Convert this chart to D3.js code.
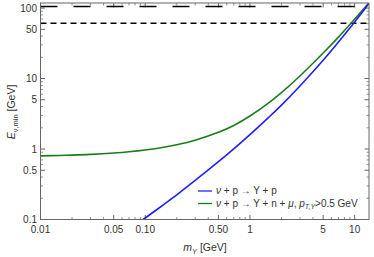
<!DOCTYPE html>
<html lang="en">
<head>
<meta charset="UTF-8" />
<script src="https://d3js.org/d3.v7.min.js"></script>
<style>
  html, body { margin: 0; padding: 0; background: #fff; overflow: hidden; }
  svg { display: block; font-family: 'Liberation Sans', Arial, sans-serif; }
  .tick-label { font-size: 10px; fill: #333; }
  .axis-title { font-size: 10.5px; fill: #333; }
  .legend-text { font-size: 10px; fill: #333; }
</style>
</head>
<body>
<svg width="374" height="257"></svg>
<script>
// values
const massBlue   = [0.09, 0.1, 0.15, 0.2, 0.3, 0.5, 0.7, 1.0, 1.5, 2, 3, 5, 7, 10, 14];
const energyBlue = [0.094, 0.105, 0.163, 0.224, 0.358, 0.66, 1.005, 1.6, 2.79, 4.2, 7.85, 18.2, 33, 63.5, 121.5];

const massGreen   = [0.01, 0.015, 0.02, 0.03, 0.05, 0.07, 0.1, 0.15, 0.2, 0.3, 0.5, 0.7, 1.0, 1.5, 2, 3, 5, 7, 10, 14];
const energyGreen = [0.80, 0.81, 0.82, 0.84, 0.878, 0.914, 0.968, 1.058, 1.15, 1.336, 1.725, 2.16, 2.94, 4.48, 6.31, 10.86, 23.0, 38.7, 69.7, 123.5];

const limitLong  = 105;
const limitShort = 61;

const xTickVals = [0.01, 0.05, 0.1, 0.5, 1, 5, 10];
const xTickText = ["0.01", "0.05", "0.10", "0.50", "1", "5", "10"];
const yTickVals = [0.1, 0.5, 1, 5, 10, 50, 100];
const yTickText = ["0.1", "0.5", "1", "5", "10", "50", "100"];

const legendLabels = ["blue", "green"];

const svg = d3.select("svg");
const pLeft = 40.5, pRight = 369, pTop = 3, pBottom = 219.5;

const x = d3.scaleLog().domain([0.01, 13.7]).range([pLeft, pRight]);
const y = d3.scaleLog().domain([0.1, 118]).range([pBottom, pTop]);

svg.append("clipPath").attr("id", "clip")
  .append("rect").attr("x", pLeft).attr("y", pTop)
  .attr("width", pRight - pLeft).attr("height", pBottom - pTop);

// minor ticks
function minors(lo, hi) {
  const out = [];
  for (let e = Math.floor(Math.log10(lo)); e <= Math.ceil(Math.log10(hi)); e++) {
    for (let k = 1; k < 10; k++) {
      const v = k * Math.pow(10, e);
      if (v >= lo && v <= hi) out.push(v);
    }
  }
  return out;
}

const frameColor = "#666";
const xMin = minors(0.01, 13.7).filter(v => !xTickVals.some(t => Math.abs(t - v) / v < 1e-6));
const yMin = minors(0.1, 118).filter(v => !yTickVals.some(t => Math.abs(t - v) / v < 1e-6));

const g = svg.append("g");

// ticks on all four sides
xTickVals.forEach(v => {
  g.append("line").attr("x1", x(v)).attr("x2", x(v)).attr("y1", pBottom).attr("y2", pBottom - 4.5).attr("stroke", frameColor);
  g.append("line").attr("x1", x(v)).attr("x2", x(v)).attr("y1", pTop).attr("y2", pTop + 4.5).attr("stroke", frameColor);
});
xMin.forEach(v => {
  g.append("line").attr("x1", x(v)).attr("x2", x(v)).attr("y1", pBottom).attr("y2", pBottom - 2.5).attr("stroke", frameColor).attr("stroke-width", 0.7);
  g.append("line").attr("x1", x(v)).attr("x2", x(v)).attr("y1", pTop).attr("y2", pTop + 2.5).attr("stroke", frameColor).attr("stroke-width", 0.7);
});
yTickVals.forEach(v => {
  g.append("line").attr("y1", y(v)).attr("y2", y(v)).attr("x1", pLeft).attr("x2", pLeft + 4.5).attr("stroke", frameColor);
  g.append("line").attr("y1", y(v)).attr("y2", y(v)).attr("x1", pRight).attr("x2", pRight - 4.5).attr("stroke", frameColor);
});
yMin.forEach(v => {
  g.append("line").attr("y1", y(v)).attr("y2", y(v)).attr("x1", pLeft).attr("x2", pLeft + 2.5).attr("stroke", frameColor).attr("stroke-width", 0.7);
  g.append("line").attr("y1", y(v)).attr("y2", y(v)).attr("x1", pRight).attr("x2", pRight - 2.5).attr("stroke", frameColor).attr("stroke-width", 0.7);
});

// tick labels
g.selectAll(".xl").data(xTickVals).enter().append("text")
  .attr("class", "tick-label").attr("x", d => x(d)).attr("y", 233)
  .attr("text-anchor", "middle").text((d, i) => xTickText[i]);
g.selectAll(".yl").data(yTickVals).enter().append("text")
  .attr("class", "tick-label").attr("x", 37).attr("y", d => y(d) + 3.5)
  .attr("text-anchor", "end").text((d, i) => yTickText[i]);

// reference lines
const plot = svg.append("g").attr("clip-path", "url(#clip)");
plot.append("line").attr("x1", pLeft).attr("x2", pRight)
  .attr("y1", y(limitLong)).attr("y2", y(limitLong))
  .attr("stroke", "#000").attr("stroke-width", 1.6).attr("stroke-dasharray", "17,16");
plot.append("line").attr("x1", pLeft).attr("x2", pRight)
  .attr("y1", y(limitShort)).attr("y2", y(limitShort))
  .attr("stroke", "#000").attr("stroke-width", 1.6).attr("stroke-dasharray", "6,4");

const line = d3.line().curve(d3.curveCatmullRom.alpha(0.5)).x(d => x(d[0])).y(d => y(d[1]));
plot.append("path").datum(d3.zip(massGreen, energyGreen))
  .attr("d", line).attr("fill", "none").attr("stroke", "#1a7f1a").attr("stroke-width", 1.6);
plot.append("path").datum(d3.zip(massBlue, energyBlue))
  .attr("d", line).attr("fill", "none").attr("stroke", "#1f1fff").attr("stroke-width", 1.6);

// frame
svg.append("rect").attr("x", pLeft).attr("y", pTop).attr("width", pRight - pLeft).attr("height", pBottom - pTop)
  .attr("fill", "none").attr("stroke", frameColor).attr("stroke-width", 1);

// axis titles
const xt = svg.append("text").attr("class", "axis-title").attr("x", 205).attr("y", 251).attr("text-anchor", "middle");
xt.append("tspan").attr("font-style", "italic").text("m");
xt.append("tspan").attr("font-style", "italic").attr("font-size", "7.5px").attr("dy", 2.5).text("Y");
xt.append("tspan").attr("dy", -2.5).text(" [GeV]");

const yt = svg.append("text").attr("class", "axis-title")
  .attr("transform", "translate(15,112) rotate(-90)").attr("text-anchor", "middle");
yt.append("tspan").attr("font-style", "italic").text("E");
yt.append("tspan").attr("font-size", "7.5px").attr("dy", 2.5).text("ν,min");
yt.append("tspan").attr("dy", -2.5).text(" [GeV]");

// legend
const lg = svg.append("g");
const colors = { blue: "#1f1fff", green: "#1a7f1a" };
legendLabels.forEach((k, i) => {
  const ly = 191 + i * 12.5;
  lg.append("line").attr("x1", 198).attr("x2", 212).attr("y1", ly).attr("y2", ly)
    .attr("stroke", colors[k]).attr("stroke-width", 1.3);
  const t = lg.append("text").attr("class", "legend-text").attr("x", 216).attr("y", ly + 3.4);
  if (k === "blue") {
    t.append("tspan").attr("font-style", "italic").text("ν");
    t.append("tspan").text(" + p → Y + p");
  } else {
    t.append("tspan").attr("font-style", "italic").text("ν");
    t.append("tspan").text(" + p → Y + n + ");
    t.append("tspan").attr("font-style", "italic").text("μ");
    t.append("tspan").text(", ");
    t.append("tspan").attr("font-style", "italic").text("p");
    t.append("tspan").attr("font-style", "italic").attr("font-size", "7px").attr("dy", 2).text("T,Y");
    t.append("tspan").attr("dy", -2).text(">0.5 GeV");
  }
});
</script>
</body>
</html>
